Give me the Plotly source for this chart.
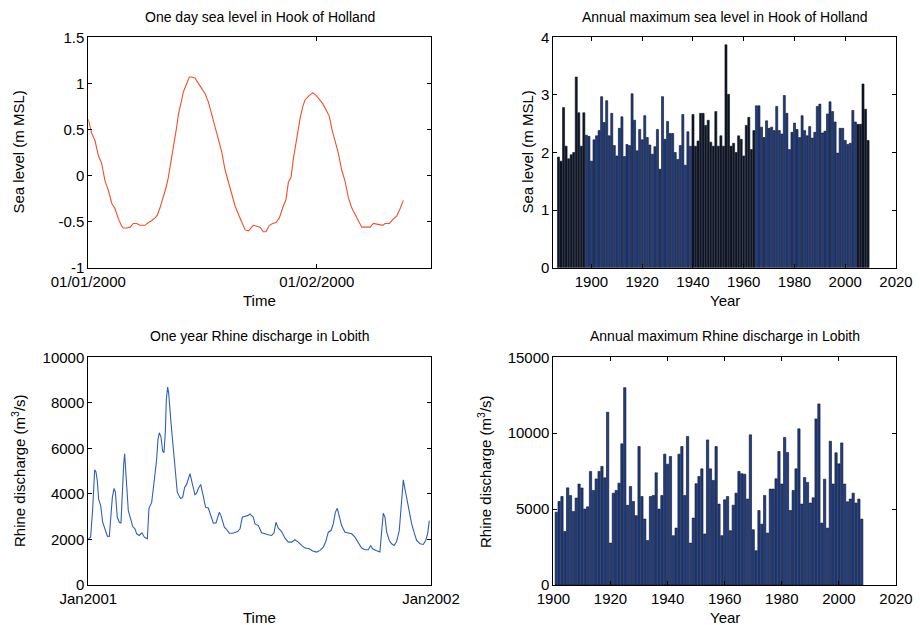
import pandas as pd
import plotly.graph_objects as go

# ---- Hook of Holland water level, 1-2 Jan 2000 (hours after midnight, m MSL)
tide_hours = [0.0, 0.35, 0.70, 1.05, 1.41, 1.76, 2.11, 2.46, 2.81, 3.16,
              3.51, 3.68, 4.03, 4.38, 4.73, 5.08, 5.43, 5.96, 6.31, 6.66,
              7.01, 7.25, 7.53, 7.88, 8.17, 8.41, 8.59, 8.94, 9.29, 9.46,
              9.64, 9.81, 9.99, 10.27, 10.62, 10.86, 11.21, 11.56, 11.91, 12.26,
              12.61, 12.96, 13.31, 13.66, 14.01, 14.37, 14.72, 15.07, 15.42, 15.77,
              16.12, 16.47, 16.82, 17.34, 17.69, 18.04, 18.39, 18.67, 19.02, 19.37,
              19.72, 20.07, 20.42, 20.77, 21.02, 21.30, 21.54, 21.83, 22.07, 22.25,
              22.53, 22.77, 23.12, 23.58, 23.93, 24.28, 24.63, 24.98, 25.33, 25.57,
              25.92, 26.27, 26.62, 26.97, 27.32, 27.67, 28.02, 28.37, 28.73, 29.08,
              29.60, 29.95, 30.48, 30.93, 31.18, 31.63, 32.05, 32.40, 32.75, 33.10]
tide_level = [0.61, 0.46, 0.38, 0.22, 0.13, -0.06, -0.16, -0.30, -0.36, -0.47,
              -0.55, -0.57, -0.57, -0.56, -0.52, -0.52, -0.54, -0.54, -0.51, -0.49,
              -0.46, -0.43, -0.35, -0.24, -0.13, -0.02, 0.09, 0.27, 0.53, 0.66,
              0.73, 0.82, 0.91, 0.98, 1.07, 1.07, 1.06, 1.00, 0.95, 0.89,
              0.80, 0.67, 0.55, 0.42, 0.26, 0.06, -0.07, -0.22, -0.33, -0.42,
              -0.51, -0.59, -0.60, -0.54, -0.55, -0.56, -0.61, -0.61, -0.54, -0.52,
              -0.51, -0.46, -0.35, -0.26, -0.07, -0.02, 0.18, 0.38, 0.55, 0.62,
              0.75, 0.82, 0.86, 0.90, 0.87, 0.82, 0.78, 0.71, 0.64, 0.51,
              0.38, 0.24, 0.06, -0.06, -0.24, -0.35, -0.42, -0.49, -0.56, -0.56,
              -0.56, -0.52, -0.53, -0.54, -0.52, -0.52, -0.47, -0.44, -0.36, -0.27]

# ---- Rhine discharge at Lobith during 2001 (day of year, m3/s)
rhine_day = [0, 2.5, 4.65, 6.78, 8.2, 9.6, 11.0, 13.2, 15.3, 17.8,
             20.3, 22.4, 23.8, 25.6, 27.4, 28.8, 30.9, 33.0, 34.8, 36.2,
             37.7, 38.7, 40.1, 42.6, 45.1, 47.3, 49.7, 51.5, 54.3, 57.2,
             59.7, 62.9, 64.6, 67.5, 70.0, 72.8, 74.2, 75.6, 77.4, 79.2,
             80.6, 82.0, 83.1, 84.5, 85.6, 86.7, 88.1, 89.5, 91.3, 93.0,
             94.8, 96.6, 98.4, 100.5, 102.6, 104.8, 106.5, 108.3, 110.1, 111.9,
             113.6, 115.4, 117.2, 119.7, 121.8, 123.6, 125.0, 127.8, 129.6, 131.4,
             133.2, 136.0, 137.8, 139.5, 141.3, 143.1, 144.9, 147.4, 150.2, 153.7,
             156.2, 159.1, 161.6, 164.0, 166.9, 169.7,
             172.2, 175.8, 177.5, 181.1, 184.6, 188.2, 191.7, 195.3, 197.8, 199.9,
             202.4, 205.9, 209.5, 213.0, 216.6, 220.1, 223.7, 227.2, 230.8, 235.4,
             238.9, 243.2, 246.8, 250.3, 253.1, 255.6, 258.5, 260.9, 263.1, 265.2,
             267.3, 269.8, 273.4, 276.9, 280.5, 284.0, 287.6, 291.1, 294.7, 298.2,
             300.7, 302.8, 306.4, 310.6, 312.4, 314.2, 316.0, 317.8, 320.6, 323.1,
             325.6, 328.4, 331.2, 333.7, 335.5, 337.3, 339.8, 341.9, 344.4, 346.9,
             349.7, 353.3, 356.8, 359.3, 361.4, 363.2]
rhine_q = [2029, 2102, 3338, 5055, 4967, 4574, 3774, 3483, 2756, 2465,
           2145, 2131, 3047, 3847, 4240, 4094, 2974, 2756, 2727, 4211,
           5302, 5767, 4792, 3265, 2902, 2567, 2465, 2247, 2175, 2291,
           2102, 2029, 3367, 3629, 4501, 5520, 6392, 6683, 6508, 5884,
           5811, 6683, 8138, 8690, 8429, 7701, 7120, 6465, 5520, 4792,
           4065, 3920, 3803, 3847, 4284, 4429, 4720, 4894, 4574, 4211,
           3963, 4032, 4240, 4414, 4065, 3774, 3411, 3382, 3120, 2974,
           2713, 2727, 2974, 3193, 3047, 2829, 2538, 2436, 2276, 2276,
           2320, 2349, 2465, 2974, 3018, 3047,
           3120, 2974, 2683, 2611, 2291, 2233, 2204, 2175, 2291, 2756,
           2494, 2349, 2058, 1884, 1884, 1986, 1884, 1738, 1622, 1593,
           1491, 1447, 1520, 1666, 1927, 2320, 2393, 2683, 3193, 3367,
           2974, 2611, 2320, 2276, 2247, 2102, 1854, 1622, 1549, 1549,
           1738, 1593, 1520, 1447, 2320, 3149, 2974, 2320, 1956, 1811,
           1738, 1913, 2393, 3629, 4618, 4211, 3629, 3193, 2683, 2320,
           1956, 1811, 1782, 1956, 2247, 2829]

# ---- Annual maximum sea level at Hook of Holland, 1887-2009 (m MSL)
sea_first_year = 1887
sea_max = [1.92, 1.85, 2.78, 2.11, 1.89, 1.96, 2.00, 3.31, 2.69, 2.11,
           2.69, 2.30, 2.28, 1.85, 2.22, 2.29, 2.38, 2.97, 2.52, 2.90,
           2.29, 2.68, 2.12, 1.94, 2.42, 2.62, 1.93, 2.14, 2.12, 3.02,
           2.56, 2.03, 2.40, 2.22, 2.64, 2.26, 2.13, 1.97, 2.10, 2.40,
           1.71, 2.97, 2.23, 2.54, 2.33, 2.33, 2.00, 1.88, 2.12, 2.66,
           1.78, 2.36, 2.11, 2.66, 2.11, 2.20, 2.68, 2.68, 2.47, 2.56,
           2.18, 2.11, 2.71, 2.11, 2.29, 2.11, 3.87, 3.01, 2.11, 2.16,
           2.00, 2.29, 2.23, 1.94, 2.47, 2.61, 2.05, 2.38, 2.81, 2.81,
           2.44, 2.26, 2.55, 2.42, 2.44, 2.38, 2.80, 2.38, 2.32, 2.99,
           2.68, 2.05, 2.35, 2.51, 2.40, 2.26, 2.64, 2.38, 2.29, 2.45,
           2.25, 2.35, 2.80, 2.84, 2.34, 2.37, 2.67, 2.88, 2.71, 2.53,
           1.99, 2.42, 2.42, 2.21, 2.14, 2.16, 2.73, 2.53, 2.49, 2.49,
           3.19, 2.75, 2.21]

# ---- Annual maximum Rhine discharge at Lobith, 1901-2008 (m3/s)
rhine_first_year = 1901
rhine_max = [4800, 5500, 5830, 3530, 6400, 5890, 4840, 5730, 6650, 6390,
             5000, 5150, 7480, 6230, 6990, 7480, 7810, 7060, 11380, 2760,
             6050, 6230, 6710, 9300, 13000, 5250, 6490, 5500, 4570, 9120,
             5830, 4350, 2930, 5830, 5900, 7390, 5000, 5900, 8620, 7960,
             8470, 3250, 3750, 8620, 9120, 5900, 9780, 2760, 4410, 6670,
             7150, 7650, 3360, 9560, 7650, 6890, 9120, 5330, 3250, 5610,
             5830, 3580, 5260, 6050, 7480, 7330, 7300, 5660, 9890, 3640,
             2260, 4910, 4010, 5900, 3420, 6320, 6320, 7000, 8790, 6650,
             9720, 8730, 4910, 6230, 7650, 10290, 5330, 7080, 6760, 5400,
             5750, 10940, 11930, 4080, 6970, 3750, 9470, 6650, 8710, 7980,
             9360, 6650, 5480, 5660, 6050, 5400, 5660, 4340]

# ---- tick labels
tide_ticks = [-1, -0.5, 0, 0.5, 1, 1.5]
tide_tick_text = ["-1", "-0.5", "0", "0.5", "1", "1.5"]
year_ticks = [1900, 1920, 1940, 1960, 1980, 2000, 2020]

FONT = "Liberation Sans, Arial, Helvetica, sans-serif"
TIDE_COLOR = "#f0502a"
RHINE_COLOR = "#2e5fb8"
BAR_BLUE = "#1f3f8c"
BAR_DARK = "#0e1628"
EDGE = "#0a0f1c"

tide_time = pd.Timestamp("2000-01-01") + pd.to_timedelta(tide_hours, unit="h")
rhine_time = pd.Timestamp("2001-01-01") + pd.to_timedelta(rhine_day, unit="D")
sea_years = list(range(sea_first_year, sea_first_year + len(sea_max)))
rhine_years = list(range(rhine_first_year, rhine_first_year + len(rhine_max)))


def sea_bar_colour(year):
    dark = year <= 1897 or 1940 <= year <= 1964 or year >= 2005
    return BAR_DARK if dark else BAR_BLUE


fig = go.Figure()
fig.add_trace(go.Scatter(x=tide_time, y=tide_level, mode="lines",
                         line=dict(color=TIDE_COLOR, width=1.1),
                         xaxis="x", yaxis="y"))
fig.add_trace(go.Bar(x=sea_years, y=sea_max, width=0.8,
                     marker=dict(color=[sea_bar_colour(y) for y in sea_years],
                                 line=dict(color=EDGE, width=0.6)),
                     xaxis="x2", yaxis="y2"))
fig.add_trace(go.Scatter(x=rhine_time, y=rhine_q, mode="lines",
                         line=dict(color=RHINE_COLOR, width=1.1),
                         xaxis="x3", yaxis="y3"))
fig.add_trace(go.Bar(x=rhine_years, y=rhine_max, width=0.8,
                     marker=dict(color=BAR_BLUE, line=dict(color=EDGE, width=0.6)),
                     xaxis="x4", yaxis="y4"))

W, H = 920, 625
# panel boxes in pixels: (left, right, top, bottom)
boxes = {
    "tl": (88.3, 431.0, 37.3, 267.7),
    "tr": (553.4, 896.0, 37.3, 267.7),
    "bl": (88.3, 431.0, 357.3, 585.0),
    "br": (553.4, 896.0, 357.3, 585.0),
}


def xdom(b):
    return [b[0] / W, b[1] / W]


def ydom(b):
    return [1 - b[3] / H, 1 - b[2] / H]


axis_style = dict(showline=True, linecolor="black", linewidth=1, mirror="allticks",
                  ticks="inside", ticklen=4, tickcolor="black", tickwidth=1,
                  showgrid=False, zeroline=False, automargin=False,
                  tickfont=dict(family=FONT, size=15, color="black"))

fig.update_layout(
    width=W, height=H,
    margin=dict(l=0, r=0, t=0, b=0),
    paper_bgcolor="white", plot_bgcolor="white",
    showlegend=False,
    xaxis=dict(domain=xdom(boxes["tl"]), anchor="y", type="date",
               range=["2000-01-01 00:00", "2000-01-02 12:00"],
               tickvals=["2000-01-01", "2000-01-02"], tickformat="%m/%d/%Y", **axis_style),
    yaxis=dict(domain=ydom(boxes["tl"]), anchor="x", range=[-1, 1.5],
               tickvals=tide_ticks, ticktext=tide_tick_text, **axis_style),
    xaxis2=dict(domain=xdom(boxes["tr"]), anchor="y2", range=[1885, 2020],
                tickvals=year_ticks, **axis_style),
    yaxis2=dict(domain=ydom(boxes["tr"]), anchor="x2", range=[0, 4],
                tickvals=[0, 1, 2, 3, 4], **axis_style),
    xaxis3=dict(domain=xdom(boxes["bl"]), anchor="y3", type="date",
                range=["2001-01-01", "2002-01-01"],
                tickvals=["2001-01-01", "2002-01-01"], tickformat="%b%Y", **axis_style),
    yaxis3=dict(domain=ydom(boxes["bl"]), anchor="x3", range=[0, 10000],
                tickvals=[0, 2000, 4000, 6000, 8000, 10000], tickformat="d", **axis_style),
    xaxis4=dict(domain=xdom(boxes["br"]), anchor="y4", range=[1900, 2020],
                tickvals=year_ticks, **axis_style),
    yaxis4=dict(domain=ydom(boxes["br"]), anchor="x4", range=[0, 15000],
                tickvals=[0, 5000, 10000, 15000], tickformat="d", **axis_style),
)


def label(text, px, py, size=15, angle=0):
    fig.add_annotation(text=text, x=px / W, y=1 - py / H, xref="paper", yref="paper",
                       xanchor="center", yanchor="middle", textangle=angle,
                       showarrow=False, font=dict(family=FONT, size=size, color="black"))


# panel titles
label("One day sea level in Hook of Holland", 259.6, 17, size=14)
label("Annual maximum sea level in Hook of Holland", 724.7, 17, size=14)
label("One year Rhine discharge in Lobith", 259.6, 336, size=14)
label("Annual maximum Rhine discharge in Lobith", 724.7, 336, size=14)

# axis titles
label("Time", 259.6, 300)
label("Year", 724.7, 300)
label("Time", 259.6, 617)
label("Year", 724.7, 617)
label("Sea level (m MSL)", 18, 152.5, angle=-90)
label("Sea level (m MSL)", 527, 152.5, angle=-90)
label("Rhine discharge (m<sup>3</sup>/s)", 18, 471, angle=-90)
label("Rhine discharge (m<sup>3</sup>/s)", 484, 471, angle=-90)

fig.write_html("out.html")
